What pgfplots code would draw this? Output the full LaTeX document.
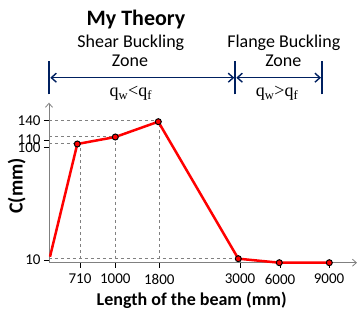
\documentclass[border=0pt]{standalone}
\usepackage{pgfplots}
\pgfplotsset{compat=1.18}
\usepackage{fontspec}
\setmainfont{Carlito}
\newfontfamily\qfont{Liberation Serif}
\usetikzlibrary{arrows.meta}
\definecolor{navy}{RGB}{0,32,96}
\begin{document}
\begin{tikzpicture}[x=1pt,y=1pt]
\path[use as bounding box] (-49,-48.3) rectangle (311,262.7);
\begin{axis}[at={(0,0)}, anchor=origin,
  scale only axis, width=308pt, height=160pt,
  xmin=0, xmax=308, ymin=0, ymax=160,
  axis lines=left,
  axis line style={gray, line width=0.8pt, -{Straight Barb[length=4pt,width=7pt]}},
  xtick={31,66.3,110.3,191,231,280},
  xticklabels={710,1000,1800,3000,6000,9000},
  ytick={2.7,115.4,122,142},
  yticklabels={10,\raisebox{-4pt}{100},\raisebox{1.5pt}{110},140},
  tick align=outside,
  major tick length=5pt,
  tick style={black, line width=0.8pt},
  /pgf/number format/assume math mode=true,
  ticklabel style={font=\fontsize{15}{15}\selectfont},
  yticklabel style={inner ysep=0.5pt},
  xticklabel style={yshift=-3pt},
  clip=false,
]
\addplot[gray, dashed, line width=0.6pt] coordinates {(0,142) (110.3,142) (110.3,0)};
\addplot[gray, dashed, line width=0.6pt] coordinates {(0,126.7) (66.3,126.7) (66.3,0)};
\addplot[gray, dashed, line width=0.6pt] coordinates {(0,119.4) (31,119.4) (31,0)};
\addplot[gray, dashed, line width=0.6pt] coordinates {(0,4) (191,4) (191,0)};
\addplot[red, line width=2.5pt] coordinates {(1,6) (28.3,118.7) (66.3,125.7) (109.3,141) (189.3,4) (230.3,0) (280.3,0)};
\addplot[only marks, mark=*, mark size=3pt, mark options={fill=red, draw=black, line width=1pt}] coordinates {(28.3,118.7) (66.3,125.7) (109.3,141) (189.3,4) (230.3,0) (280.3,0)};
\end{axis}
\node[anchor=base, font=\fontsize{22}{22}\selectfont\bfseries] at (87,236.7) {My Theory};
\node[anchor=base, font=\fontsize{18}{18}\selectfont] at (81.8,215) {Shear Buckling};
\node[anchor=base, font=\fontsize{18}{18}\selectfont] at (81,196) {Zone};
\node[anchor=base, font=\fontsize{18}{18}\selectfont] at (234.8,215) {Flange Buckling};
\node[anchor=base, font=\fontsize{18}{18}\selectfont] at (234.3,196) {Zone};
\draw[navy, line width=1.8pt] (0.3,168.4) -- (0.3,201.7);
\draw[navy, line width=1.8pt] (186.3,168.4) -- (186.3,201.7);
\draw[navy, line width=1.8pt] (273,168.4) -- (273,201.7);
\draw[navy, line width=1.4pt, {Straight Barb[length=5pt,width=9pt]}-{Straight Barb[length=5pt,width=9pt]}] (1.3,185) -- (185.3,185);
\draw[navy, line width=1.4pt, {Straight Barb[length=5pt,width=9pt]}-{Straight Barb[length=5pt,width=9pt]}] (187.3,185) -- (272,185);
\node[anchor=base, font=\fontsize{18}{18}\qfont] at (81.8,166) {q\textsubscript{w}<q\textsubscript{f}};
\node[anchor=base, font=\fontsize{18}{18}\qfont] at (228,166) {q\textsubscript{w}>q\textsubscript{f}};
\node[rotate=90, font=\fontsize{20}{20}\selectfont\bfseries] at (-32.3,76.9) {C(mm)};
\node[font=\fontsize{18}{18}\selectfont\bfseries] at (142.7,-37.3) {Length of the beam (mm)};
\end{tikzpicture}
\end{document}
